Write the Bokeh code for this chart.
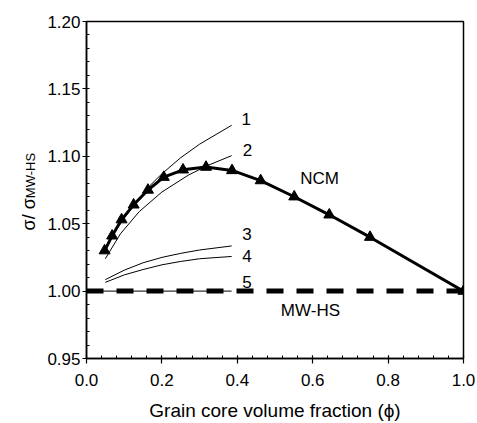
import numpy as np
from bokeh.plotting import figure
from bokeh.layouts import row, column
from bokeh.models import FixedTicker, PrintfTickFormatter, Label
from bokeh.embed import file_html
from bokeh.resources import INLINE

FONT = "Liberation Sans"

# NCM curve (thick line with triangles)
ncm_x = [0.048, 0.068, 0.093, 0.125, 0.163, 0.205, 0.256, 0.317, 0.386, 0.462, 0.551, 0.644, 0.752, 1.0]
ncm_y = [1.030, 1.041, 1.053, 1.064, 1.075, 1.0845, 1.090, 1.092, 1.0895, 1.082, 1.070, 1.0566, 1.040, 1.000]

# thin curves 1-5
c1_x = [0.05, 0.07, 0.10, 0.13, 0.16, 0.20, 0.25, 0.30, 0.385]
c1_y = [1.030, 1.042, 1.054, 1.065, 1.076, 1.087, 1.099, 1.109, 1.123]
c2_x = [0.05, 0.09, 0.14, 0.20, 0.27, 0.32, 0.385]
c2_y = [1.024, 1.0425, 1.059, 1.0735, 1.086, 1.093, 1.1005]
c3_x = [0.05, 0.10, 0.15, 0.20, 0.25, 0.30, 0.385]
c3_y = [1.0085, 1.0155, 1.021, 1.025, 1.028, 1.0305, 1.0335]
c4_x = [0.05, 0.10, 0.15, 0.20, 0.25, 0.30, 0.385]
c4_y = [1.0065, 1.012, 1.016, 1.0195, 1.022, 1.024, 1.0257]
c5_x = [0.0, 0.385]
c5_y = [1.0, 1.0]

# MW-HS dashed reference
mw_x = [0.0, 1.0]
mw_y = [1.0, 1.0]

# curve labels
lab_text = ["1", "2", "3", "4", "5", "NCM", "MW-HS"]
lab_x = [0.424, 0.427, 0.426, 0.426, 0.426, 0.618, 0.594]
lab_y = [1.128, 1.105, 1.0425, 1.0257, 1.0066, 1.0832, 0.9856]

x_ticks = [0.0, 0.2, 0.4, 0.6, 0.8, 1.0]
y_ticks = [0.95, 1.00, 1.05, 1.10, 1.15, 1.20]

W, H = 477, 423
LW = 40   # width of the y-title strip
BH = 32   # height of the x-title strip
PH = H - BH


def strip(w, h):
    f = figure(width=w, height=h, x_range=(0, w), y_range=(0, h),
               output_backend="svg", toolbar_location=None,
               x_axis_location=None, y_axis_location=None,
               min_border=0, min_border_left=0, min_border_right=0,
               min_border_top=0, min_border_bottom=0)
    f.xgrid.visible = False
    f.ygrid.visible = False
    f.outline_line_color = None
    return f


# y title: sigma / sigma_MW-HS (rotated); both parts anchored at one junction point
yl = strip(LW, PH)
yl.add_layout(Label(x=28, y=PH - 205, text="\u03c3/ \u03c3", angle=np.pi / 2,
                    text_font=FONT, text_font_size="18px", text_align="right",
                    text_baseline="alphabetic", text_color="black"))
yl.add_layout(Label(x=28, y=PH - 205, x_offset=2, text="MW-HS", angle=np.pi / 2,
                    text_font=FONT, text_font_size="13px", text_align="left",
                    text_baseline="alphabetic", text_color="black"))

# x title strip
xl = strip(W, BH)
xl.add_layout(Label(x=274.5, y=BH - (410 - PH), text="Grain core volume fraction (\u03d5)",
                    text_font=FONT, text_font_size="19px", text_align="center",
                    text_baseline="middle", text_color="black"))

p = figure(width=W - LW, height=PH, x_range=(0, 1), y_range=(0.95, 1.2),
           output_backend="svg", toolbar_location=None,
           min_border_left=86 - LW, min_border_right=14, min_border_top=21,
           min_border_bottom=PH - 358)
p.xgrid.visible = False
p.ygrid.visible = False
p.outline_line_color = "black"
p.outline_line_width = 1.5
p.background_fill_color = "white"
p.border_fill_color = "white"

for ax in (p.xaxis[0], p.yaxis[0]):
    ax.axis_line_width = 1.5
    ax.major_tick_line_width = 1.2
    ax.minor_tick_line_width = 1.0
    ax.major_label_text_font = FONT
    ax.major_label_text_font_size = "17px"
    ax.major_label_text_color = "black"
    ax.major_label_text_line_height = 1.0

p.xaxis.ticker = FixedTicker(ticks=x_ticks, minor_ticks=[i * 0.04 for i in range(26)])
p.yaxis.ticker = FixedTicker(ticks=y_ticks, minor_ticks=[0.95 + i * 0.01 for i in range(26)])
p.xaxis.formatter = PrintfTickFormatter(format="%.1f")
p.yaxis.formatter = PrintfTickFormatter(format="%.2f")
p.xaxis.major_tick_in = 3
p.xaxis.major_tick_out = 5
p.xaxis.minor_tick_in = 3
p.xaxis.minor_tick_out = 0
p.xaxis.major_label_standoff = 10
p.yaxis.major_tick_in = 0
p.yaxis.major_tick_out = 4
p.yaxis.minor_tick_in = 3
p.yaxis.minor_tick_out = 0
p.yaxis.major_label_standoff = 2

# lines
p.line(mw_x, mw_y, line_color="black", line_width=5, line_dash="17 13")
for xs, ys in [(c1_x, c1_y), (c2_x, c2_y), (c3_x, c3_y), (c4_x, c4_y), (c5_x, c5_y)]:
    p.line(xs, ys, line_color="black", line_width=1)
p.line(ncm_x, ncm_y, line_color="black", line_width=3)
p.scatter(ncm_x, ncm_y, marker="triangle", size=11, fill_color="black", line_color="black")

for t, x, y in zip(lab_text, lab_x, lab_y):
    p.add_layout(Label(x=x, y=y, text=t, text_font=FONT, text_font_size="17px",
                       text_align="center", text_baseline="middle", text_color="black"))

layout = column(row(yl, p, spacing=0), xl, spacing=0)
open("out.html", "w").write(file_html(layout, INLINE))
